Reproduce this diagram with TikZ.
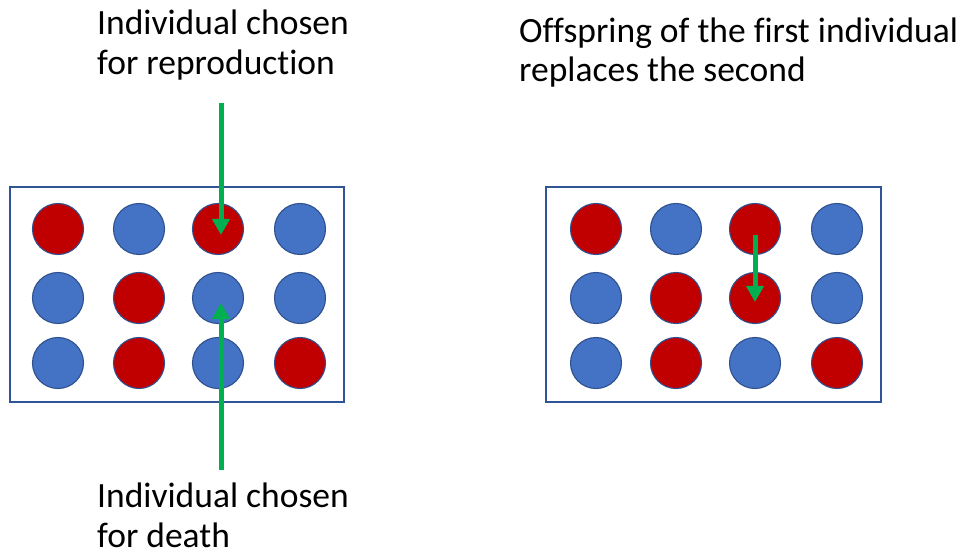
\documentclass[tikz,border=0pt]{standalone}
\usepackage{fontspec}
\setmainfont{Carlito}[Ligatures=NoCommon]
\usetikzlibrary{arrows.meta}
\definecolor{popred}{HTML}{C00000}
\definecolor{popblue}{HTML}{4472C4}
\definecolor{rimblue}{HTML}{2F528F}
\definecolor{framebl}{HTML}{2F5597}
\definecolor{pickgreen}{HTML}{00B050}
\tikzset{
  indiv/.style={circle, draw=rimblue, line width=1.1pt, minimum size=51pt, inner sep=0pt},
  redind/.style={indiv, fill=popred},
  blueind/.style={indiv, fill=popblue},
  popframe/.style={draw=framebl, line width=1.1pt},
  pick/.style={draw=pickgreen, line width=5pt, -{Triangle[width=17pt,length=16pt]}},
  caption/.style={anchor=base west, inner sep=0pt, font=\fontsize{35.5}{42}\selectfont}
}
\begin{document}
\begin{tikzpicture}[x=1pt,y=-1pt]
\useasboundingbox (0,0) rectangle (959,556);

% population frames
\draw[popframe] (10,187) rectangle (344,402);
\draw[popframe] (546,187) rectangle (881,402);

% population before the event
\node[redind]  (L11) at (58,229) {};
\node[blueind] (L12) at (139,229) {};
\node[redind]  (L13) at (218,229) {};
\node[blueind] (L14) at (300,229) {};
\node[blueind] (L21) at (58,298) {};
\node[redind]  (L22) at (139,298) {};
\node[blueind] (L23) at (218,298) {};
\node[blueind] (L24) at (300,298) {};
\node[blueind] (L31) at (58,363) {};
\node[redind]  (L32) at (139,363) {};
\node[blueind] (L33) at (218,363) {};
\node[redind]  (L34) at (300,363) {};

% population after the event
\node[redind]  (R11) at (596,229) {};
\node[blueind] (R12) at (676,229) {};
\node[redind]  (R13) at (755,229) {};
\node[blueind] (R14) at (837,229) {};
\node[blueind] (R21) at (596,298) {};
\node[redind]  (R22) at (676,298) {};
\node[redind]  (R23) at (755,298) {};
\node[blueind] (R24) at (837,298) {};
\node[blueind] (R31) at (596,363) {};
\node[redind]  (R32) at (676,363) {};
\node[blueind] (R33) at (755,363) {};
\node[redind]  (R34) at (837,363) {};

% captions
\node[caption] (tReproA) at (97,35) {Individual chosen};
\node[caption] (tReproB) at (97,75) {for reproduction};
\node[caption] (tDeathA) at (97,507) {Individual chosen};
\node[caption] (tDeathB) at (97,547) {for death};
\node[caption] (tOffA) at (519,43) {Offspring of the first individual};
\node[caption] (tOffB) at (519,82) {replaces the second};

% selection arrows
\coordinate (repFrom) at (221,103);
\coordinate (deathFrom) at (221,470);
\draw[pick] (repFrom) -- ([xshift=3pt,yshift=-6pt]L13.center);
\draw[pick] (deathFrom) -- ([xshift=3pt,yshift=-5pt]L23.center);
\draw[pick] ([yshift=-6pt]R13.center) -- ([yshift=-4pt]R23.center);
\end{tikzpicture}
\end{document}
